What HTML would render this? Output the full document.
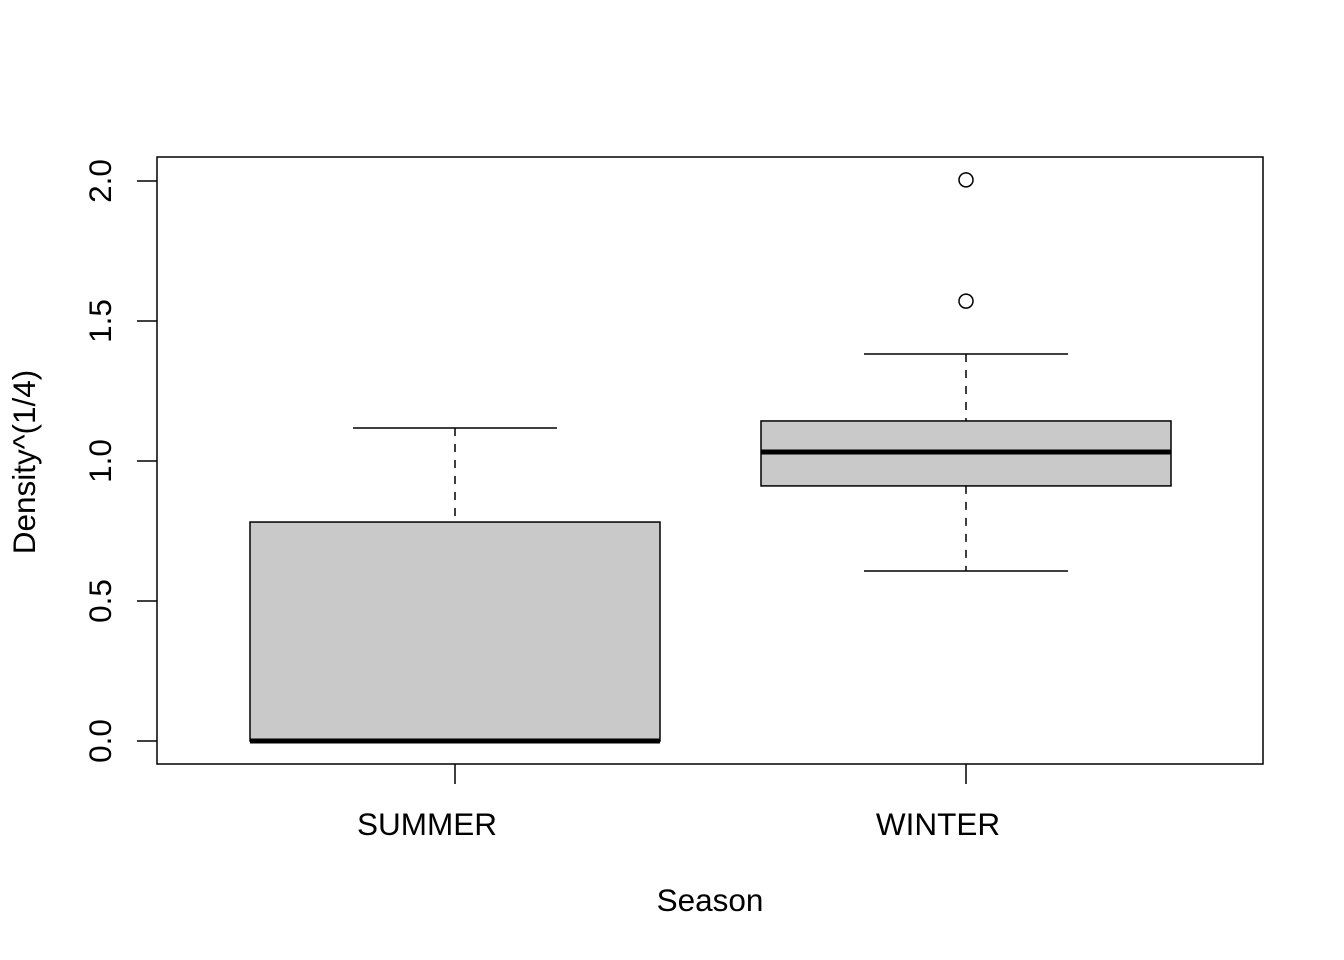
<!DOCTYPE html>
<html><head><meta charset="utf-8"><style>
html,body{margin:0;padding:0;background:#fff}
svg{display:block;font-family:"Liberation Sans",Arial,sans-serif}
</style></head><body>
<svg id="chart" width="1344" height="960" viewBox="0 0 1344 960">
<rect x="0" y="0" width="1344" height="960" fill="#fff"/>
<g id="marks"></g>
<rect x="157" y="157" width="1106" height="607" fill="none" stroke="#000" stroke-width="1.5"/>
<g id="axes"></g>
<text x="710" y="911" font-size="31.5" text-anchor="middle">Season</text>
<text transform="translate(35,462) rotate(-90)" font-size="31.5" text-anchor="middle">Density^(1/4)</text>
</svg>
<script>
const categories = ["SUMMER", "WINTER"];
const whiskerLow = [0, 0.607];
const q1 = [0, 0.911];
const median = [0, 1.032];
const q3 = [0.782, 1.143];
const whiskerHigh = [1.118, 1.382];
const outliers = [[], [1.571, 2.004]];
const yTicks = [0, 0.5, 1, 1.5, 2];
const yTickLabels = ["0.0", "0.5", "1.0", "1.5", "2.0"];

const NS = "http://www.w3.org/2000/svg";
const y = v => 741 - v * 280;
const xc = i => 455 + i * 511;
const boxHalf = 205, capHalf = 102;
function mk(tag, attrs, parent) {
  const e = document.createElementNS(NS, tag);
  for (const k in attrs) e.setAttribute(k, attrs[k]);
  parent.appendChild(e);
  return e;
}
const marks = document.getElementById("marks");
const axes = document.getElementById("axes");
categories.forEach((c, i) => {
  const cx = xc(i);
  const g = mk("g", {}, marks);
  
  
  const w1 = mk("line", {x1: cx, x2: cx, y1: y(whiskerHigh[i]), y2: y(q3[i]), stroke: "#000", "stroke-width": 1.5, "stroke-dasharray": "8,8"}, g);
  
  
  const w2 = mk("line", {x1: cx, x2: cx, y1: y(q1[i]), y2: y(whiskerLow[i]), stroke: "#000", "stroke-width": 1.5, "stroke-dasharray": "8,8"}, g);
  
  
  const c1 = mk("line", {x1: cx - capHalf, x2: cx + capHalf, y1: y(whiskerHigh[i]), y2: y(whiskerHigh[i]), stroke: "#000", "stroke-width": 1.5}, g);
  
  
  const c2 = mk("line", {x1: cx - capHalf, x2: cx + capHalf, y1: y(whiskerLow[i]), y2: y(whiskerLow[i]), stroke: "#000", "stroke-width": 1.5}, g);
  
  
  const r = mk("rect", {x: cx - boxHalf, y: y(q3[i]), width: boxHalf * 2, height: Math.max(0, y(q1[i]) - y(q3[i])), fill: "#c9c9c9", stroke: "#000", "stroke-width": 1.5}, g);
  
  
  const m = mk("line", {x1: cx - boxHalf, x2: cx + boxHalf, y1: y(median[i]), y2: y(median[i]), stroke: "#000", "stroke-width": 5}, g);
  
  
  outliers[i].forEach(v => {
    const o = mk("circle", {cx: cx, cy: y(v), r: 7, fill: "none", stroke: "#000", "stroke-width": 1.5}, g);
    
    
  });
  const t = mk("line", {x1: cx, x2: cx, y1: 764, y2: 784, stroke: "#000", "stroke-width": 1.5}, axes);
  
  
  const l = mk("text", {x: cx - 28, y: 835, "font-size": 31.5, "text-anchor": "middle"}, axes);
  l.textContent = c;
  
  
});
yTicks.forEach((v, i) => {
  const t = mk("line", {x1: 137, x2: 157, y1: y(v), y2: y(v), stroke: "#000", "stroke-width": 1.5}, axes);
  
  
  const l = mk("text", {transform: "translate(111," + y(v) + ") rotate(-90)", "font-size": 31.5, "text-anchor": "middle"}, axes);
  l.textContent = yTickLabels[i];
  
  
});
</script>
</body></html>
